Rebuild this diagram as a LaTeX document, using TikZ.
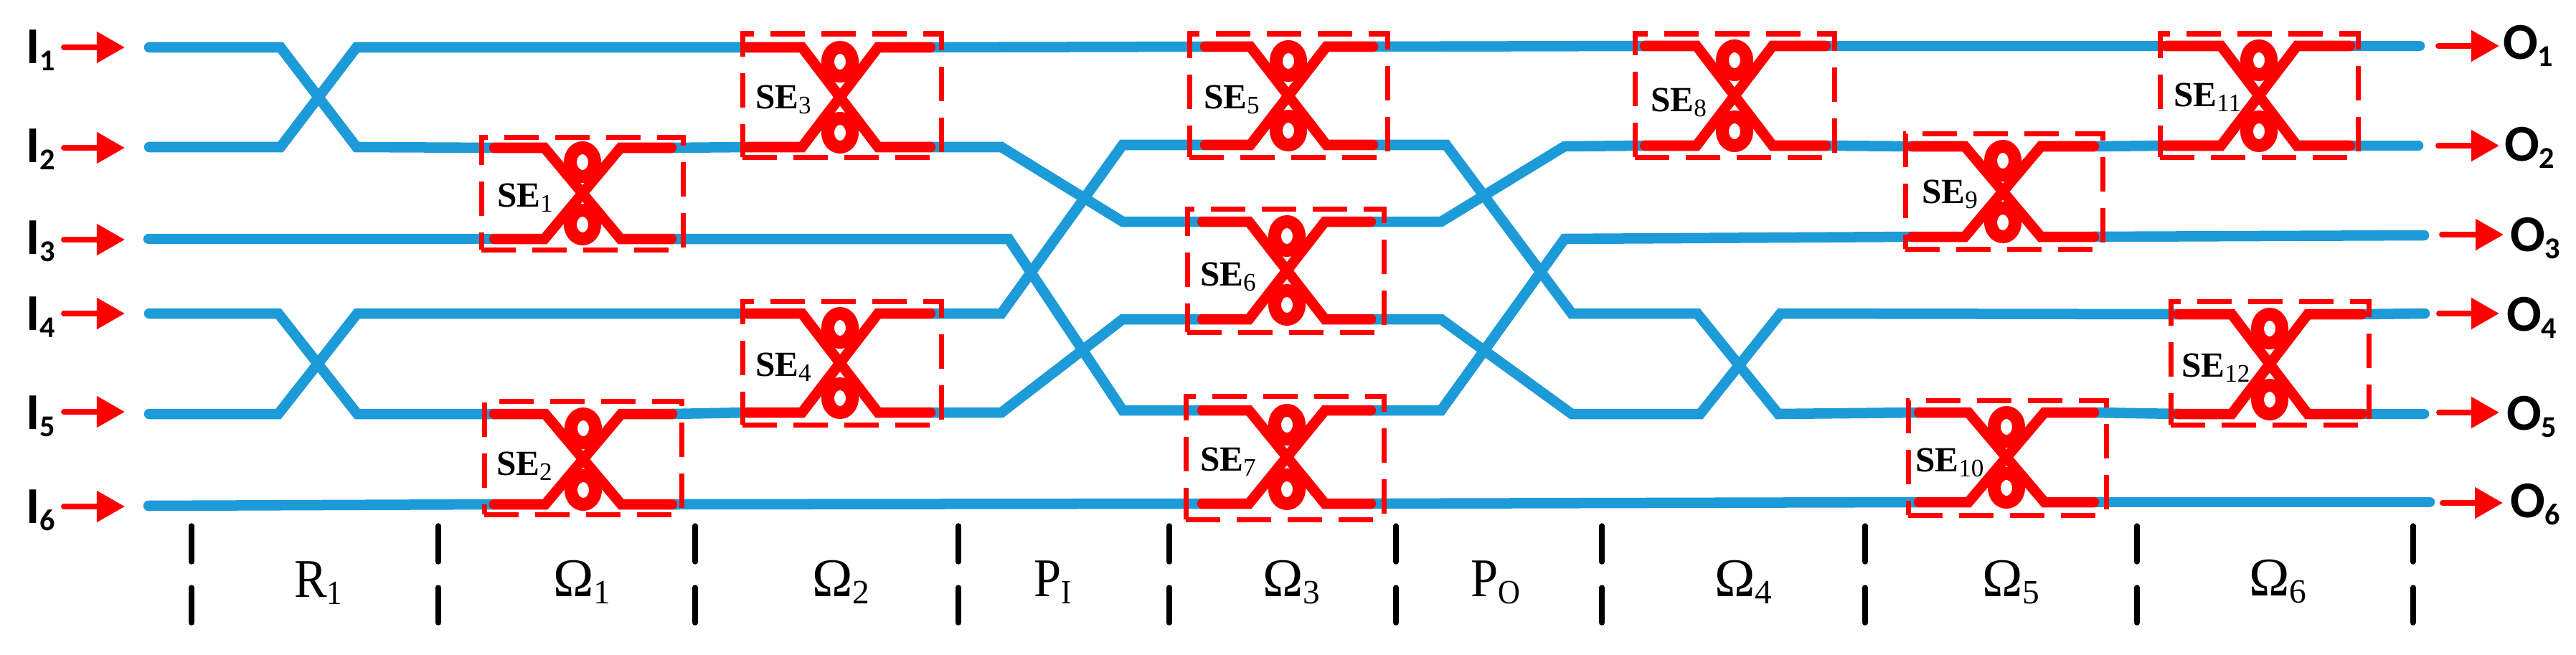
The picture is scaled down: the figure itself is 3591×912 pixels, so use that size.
\documentclass[tikz,border=0pt]{standalone}
\usepackage{fontspec}
\setmainfont{Liberation Serif}
\newfontfamily\iofont{Carlito}
\usetikzlibrary{arrows.meta,calc}
\definecolor{wireblue}{RGB}{29,155,216}
\newcommand{\iosub}[1]{\raisebox{-.1cm}{\fontsize{12}{12}\selectfont #1}}
\newcommand{\sesub}[1]{\raisebox{-.07cm}{\fontsize{10}{10}\selectfont\mdseries #1}}
\newcommand{\stagesub}[1]{\raisebox{-.1cm}{\fontsize{13.5}{14}\selectfont #1}}
\def\selist{1/689/936/812/206/333/671/952/191/348/693/288,
  2/689/937/813/577/703/675/950/559/717/692/662,
  3/1043/1297/1171/66/205/1035/1312/47/219/1053/151,
  4/1043/1297/1171/437/575/1035/1312/420/592/1053/524,
  5/1680/1914/1796/65/202/1658/1934/47/219/1678/151,
  6/1676/1911/1794/309/445/1655/1929/291/463/1673/398,
  7/1676/1911/1794/572/702/1653/1929/552/724/1673/656,
  8/2293/2545/2418/64/203/2279/2557/47/219/2301/155,
  9/2666/2919/2792/204/330/2656/2931/186/347/2679/283,
  10/2675/2919/2797/575/700/2660/2936/558/718/2670/657,
  11/3020/3276/3149/64/203/3011/3287/47/219/3030/148,
  12/3037/3292/3164/438/577/3026/3302/420/592/3041/525}
\tikzset{
  wire/.style={draw=wireblue,line width=.145cm,line cap=round},
  switchwire/.style={draw=red,line width=.145cm,line cap=round},
  switchloop/.style={draw=red,line width=.18cm},
  switchbox/.style={draw=red,line width=.07cm,dash pattern=on .48cm off .23cm},
  sigarrow/.style={draw=red,line width=.08cm,line cap=round,-{Triangle[length=.39cm,width=.42cm]}},
  sepline/.style={draw=black,line width=.075cm,line cap=round},
  iolabel/.style={anchor=base west,inner sep=0pt,outer sep=0pt,font=\iofont\bfseries\fontsize{20.5}{21}\selectfont},
  selabel/.style={anchor=base west,inner sep=0pt,outer sep=0pt,font=\bfseries\fontsize{14}{14}\selectfont},
  stagelabel/.style={anchor=base west,inner sep=0pt,outer sep=0pt,transform shape,xscale=.9,font=\fontsize{21.6}{22}\selectfont},
  omegalabel/.style={stagelabel,xscale=1.11},
}
\begin{document}
\begin{tikzpicture}[x=.01cm,y=-.01cm]
    \useasboundingbox (0,0) rectangle (3591,912);
    % ports of the switching elements
    \foreach \n/\xl/\xr/\xc/\yt/\yb/\bxl/\bxr/\byt/\byb/\lx/\ly in \selist {
      \coordinate (se\n_tl) at (\xl,\yt);
      \coordinate (se\n_bl) at (\xl,\yb);
      \coordinate (se\n_tr) at (\xr,\yt);
      \coordinate (se\n_br) at (\xr,\yb);
    }
    % inputs
    \foreach \n/\y/\by/\wy/\wx in {1/66/88/66/208,2/206/226/205/208,3/334/354/333/207,4/437/460/437/208,5/574/598/577/208,6/706/729/705/207} {
      \node[iolabel] (i\n) at (36,\by) {I\iosub{\n}};
      \coordinate (ia\n) at (89,\y);
      \coordinate (ib\n) at (174,\y);
      \coordinate (iw\n) at (\wx,\wy);
      \draw[sigarrow] (ia\n) -- (ib\n);
    }
    % outputs
    \foreach \n/\y/\by/\lx/\ax/\bx/\wy/\wx in {1/64/82/3489/3399/3484/64/3373,2/203/224/3491/3399/3484/203/3371,3/327/350/3499/3404/3490/328/3379,4/437/461/3494/3400/3484/437/3380,5/575/599/3494/3400/3484/577/3379,6/701/721/3499/3405/3489/700/3387} {
      \node[iolabel] (o\n) at (\lx,\by) {O\iosub{\n}};
      \coordinate (oa\n) at (\ax,\y);
      \coordinate (ob\n) at (\bx,\y);
      \coordinate (ow\n) at (\wx,\wy);
      \draw[sigarrow] (oa\n) -- (ob\n);
    }
    %
    \draw[wire] (iw1) -- (391,66) -- (497,205) -- (se1_tl);
    \draw[wire] (iw2) -- (391,205) -- (497,66) -- (se3_tl);
    \draw[wire] (iw3) -- (se1_bl);
    \draw[wire] (iw4) -- (388,437) -- (498,577) -- (se2_tl);
    \draw[wire] (iw5) -- (388,577) -- (498,437) -- (se4_tl);
    \draw[wire] (iw6) -- (se2_bl);
    %
    \draw[wire] (se1_tr) -- (se3_bl);
    \draw[wire] (se1_br) -- (1406,333) -- (1565,572) -- (se7_tl);
    \draw[wire] (se2_tr) -- (se4_bl);
    \draw[wire] (se2_br) -- (se7_bl);
    \draw[wire] (se3_tr) -- (se5_tl);
    \draw[wire] (se3_br) -- (1396,205) -- (1565,309) -- (se6_tl);
    \draw[wire] (se4_tr) -- (1396,437) -- (1565,202) -- (se5_bl);
    \draw[wire] (se4_br) -- (1396,575) -- (1565,445) -- (se6_bl);
    %
    \draw[wire] (se5_tr) -- (se8_tl);
    \draw[wire] (se5_br) -- (2016,202) -- (2191,437) -- (2366,437) -- (2479,577) -- (se10_tl);
    \draw[wire] (se6_tr) -- (2009,309) -- (2181,204) -- (se8_bl);
    \draw[wire] (se6_br) -- (2009,445) -- (2191,577) -- (2370,577) -- (2482,437) -- (se12_tl);
    \draw[wire] (se7_tr) -- (2009,572) -- (2181,333) -- (se9_bl);
    \draw[wire] (se7_br) -- (se10_bl);
    %
    \draw[wire] (se8_tr) -- (se11_tl);
    \draw[wire] (se8_br) -- (se9_tl);
    \draw[wire] (se9_tr) -- (se11_bl);
    \draw[wire] (se9_br) -- (ow3);
    \draw[wire] (se10_tr) -- (se12_bl);
    \draw[wire] (se10_br) -- (ow6);
    \draw[wire] (se11_tr) -- (ow1);
    \draw[wire] (se11_br) -- (ow2);
    \draw[wire] (se12_tr) -- (ow4);
    \draw[wire] (se12_br) -- (ow5);
    % switching elements
    \foreach \n/\xl/\xr/\xc/\yt/\yb/\bxl/\bxr/\byt/\byb/\lx/\ly in \selist {
      \draw[switchbox] (\bxl,\byb) -- (\bxr,\byb) -- (\bxr,\byt) -- (\bxl,\byt) -- cycle;
      \draw[switchloop] (\xc,\yt+20) ellipse [x radius=.17cm,y radius=.2cm];
      \draw[switchloop] (\xc,\yb-20) ellipse [x radius=.17cm,y radius=.2cm];
      \draw[switchwire] (se\n_tl) -- (\xc-53,\yt) -- (\xc+53,\yb) -- (se\n_br);
      \draw[switchwire] (se\n_bl) -- (\xc-53,\yb) -- (\xc+53,\yt) -- (se\n_tr);
      \node[selabel] (selab\n) at (\lx,\ly) {SE\sesub{\n}};
    }
    % stage separators
    \foreach \x [count=\k] in {267,611,969,1336,1630,1946,2233,2600,2979,3364} {
      \coordinate (ta\k) at (\x,733);
      \coordinate (tb\k) at (\x,783);
      \coordinate (tc\k) at (\x,819);
      \coordinate (td\k) at (\x,868);
      \draw[sepline] (ta\k) -- (tb\k);
      \draw[sepline] (tc\k) -- (td\k);
    }
    \node[stagelabel] (stR) at (410,832) {R\stagesub{1}};
    \node[omegalabel] (stA) at (771,831) {Ω\stagesub{1}};
    \node[omegalabel] (stB) at (1132,831) {Ω\stagesub{2}};
    \node[stagelabel] (stI) at (1441,831) {P\stagesub{I}};
    \node[omegalabel] (stC) at (1760,831) {Ω\stagesub{3}};
    \node[stagelabel] (stO) at (2050,831) {P\stagesub{O}};
    \node[omegalabel] (stD) at (2390,831) {Ω\stagesub{4}};
    \node[omegalabel] (stE) at (2763,831) {Ω\stagesub{5}};
    \node[omegalabel] (stF) at (3135,830) {Ω\stagesub{6}};
  \end{tikzpicture}
\end{document}
